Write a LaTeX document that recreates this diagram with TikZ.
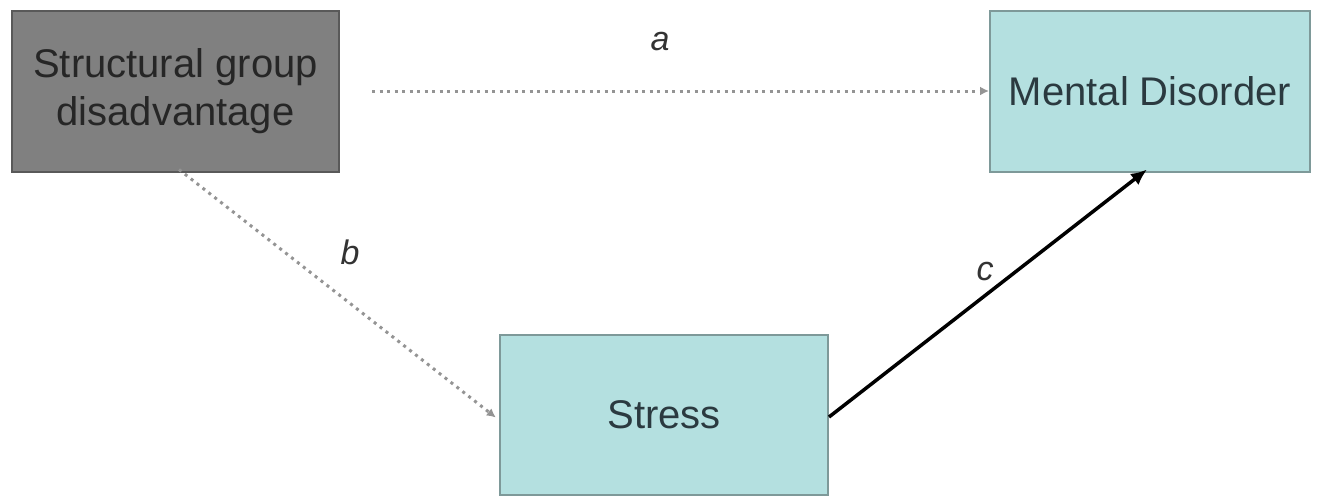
\documentclass[tikz,border=0pt]{standalone}
\usepackage{fontspec}
\setmainfont{Liberation Sans}
\usetikzlibrary{arrows.meta}
\definecolor{grayfill}{HTML}{808080}
\definecolor{grayedge}{HTML}{595959}
\definecolor{cyanfill}{HTML}{B4E0E0}
\definecolor{cyanedge}{HTML}{7E9999}
\definecolor{cyantext}{HTML}{2B3A40}
\definecolor{dotline}{HTML}{949494}
\begin{document}
\begin{tikzpicture}[x=1pt,y=-1pt,
  box/.style={draw, line width=2pt, minimum height=161pt, align=center,
    font=\fontsize{40}{48}\selectfont, inner sep=0pt},
  graybox/.style={box, fill=grayfill, draw=grayedge, text=black!85},
  cyanbox/.style={box, fill=cyanfill, draw=cyanedge, text=cyantext},
  dotarrow/.style={draw=dotline, line width=3pt, dash pattern=on 3pt off 4.5pt,
    -{Latex[length=9pt,width=9pt]}},
  solidarrow/.style={draw=black, line width=3.5pt, -{Latex[length=16pt,width=14pt]}},
  lab/.style={font=\fontsize{34}{40}\selectfont\itshape, text=black!80}]
\useasboundingbox (0,0) rectangle (1319,499);
\node[graybox, minimum width=327pt] (s) at (175.5,91) {Structural group\\disadvantage};
\node[cyanbox, minimum width=320pt] (m) at (1150,91) {Mental Disorder};
\node[cyanbox, minimum width=328pt, minimum height=160pt] (t) at (664,415) {Stress};
\coordinate (bstart) at ([xshift=168pt,yshift=3pt]s.south west);
\draw[dotarrow, shorten <=32pt] (s.east) -- (m.west);
\draw[dotarrow, shorten >=4pt] (bstart) -- ([yshift=-5pt]t.west);
\draw[solidarrow] ([yshift=-2pt]t.east) -- ([xshift=-3pt,yshift=3pt]m.south);
\node[lab] (la) at (660,42) {a};
\node[lab] (lb) at (350,252) {b};
\node[lab] (lc) at (985,272) {c};
\end{tikzpicture}
\end{document}
